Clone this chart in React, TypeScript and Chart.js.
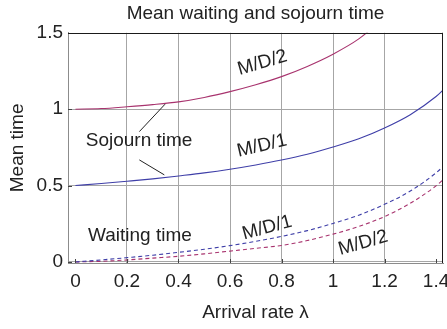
import { useEffect, useRef } from "react";
import { Chart, registerables } from "chart.js";

Chart.register(...registerables);

// Arrival rate (x values of the curves)
const lambda = [0, 0.1, 0.2, 0.3, 0.4, 0.5, 0.6, 0.7, 0.8, 0.9, 1.0, 1.1, 1.2, 1.3, 1.4, 1.43];

// Mean sojourn time
const md1Sojourn = [0.5, 0.513, 0.528, 0.544, 0.563, 0.583, 0.607, 0.635, 0.667, 0.705, 0.752, 0.806, 0.877, 0.964, 1.083, 1.13];
const md2Sojourn = [1.0, 1.004, 1.016, 1.03, 1.048, 1.077, 1.115, 1.16, 1.213, 1.28, 1.36, 1.46, 1.6, null, null, null];

// Mean waiting time
const md1Waiting = [0, 0.013, 0.028, 0.044, 0.063, 0.083, 0.107, 0.135, 0.167, 0.205, 0.252, 0.306, 0.377, 0.464, 0.583, 0.628];
const md2Waiting = [0, 0.004, 0.013, 0.025, 0.037, 0.053, 0.071, 0.089, 0.108, 0.14, 0.182, 0.232, 0.297, 0.384, 0.498, 0.542];

// Ticks
const xTicks = [0, 0.2, 0.4, 0.6, 0.8, 1, 1.2, 1.4];
const xTickLabels = ["0", "0.2", "0.4", "0.6", "0.8", "1", "1.2", "1.4"];
const xGrid = [0.2, 0.4, 0.6, 0.8, 1, 1.2];
const yTicks = [0, 0.5, 1, 1.5];
const yTickLabels = ["0", "0.5", "1", "1.5"];
const yGrid = [0, 0.5, 1];

// Text labels inside the plot (data units)
const labelTexts = ["M/D/2", "M/D/1", "Sojourn time", "Waiting time", "M/D/1", "M/D/2"];
const labelX = [0.726, 0.724, 0.247, 0.25, 0.744, 1.117];
const labelY = [1.303, 0.76, 0.79, 0.17, 0.223, 0.124];
const labelAngle = [-16, -13, 0, 0, -15, -16];

// Callout lines from "Sojourn time" (x1, y1, x2, y2 in data units)
const callouts = [
  [0.248, 0.853, 0.348, 1.033],
  [0.248, 0.668, 0.345, 0.57],
];

const FONT = '"Liberation Sans", Arial, Helvetica, sans-serif';
const TEXT = "#222222";
const GRID = "#a6a6a6";
const BLUE = "#3f3fa8";
const PURPLE = "#a8336e";

const overlay = {
  id: "overlay",
  afterDatasetsDraw(chart: any) {
    const { ctx, chartArea: a, scales } = chart;
    const xs = scales.x;
    const ys = scales.y;
    ctx.save();
    // inward tick marks
    ctx.strokeStyle = "#444";
    ctx.lineWidth = 1;
    ctx.beginPath();
    xTicks.forEach((v) => {
      const px = Math.round(xs.getPixelForValue(v)) + 0.5;
      ctx.moveTo(px, a.bottom);
      ctx.lineTo(px, a.bottom - 4);
    });
    yTicks.forEach((v) => {
      const py = Math.round(ys.getPixelForValue(v)) + 0.5;
      ctx.moveTo(a.left, py);
      ctx.lineTo(a.left + 4, py);
    });
    ctx.stroke();
    // top and right frame
    ctx.strokeStyle = "#1a1a1a";
    ctx.beginPath();
    ctx.moveTo(a.left, Math.round(a.top) + 0.5);
    ctx.lineTo(a.right, Math.round(a.top) + 0.5);
    ctx.moveTo(Math.round(a.right) - 0.5, a.top);
    ctx.lineTo(Math.round(a.right) - 0.5, a.bottom);
    ctx.stroke();
    // callout lines
    ctx.strokeStyle = TEXT;
    ctx.beginPath();
    callouts.forEach(([x1, y1, x2, y2]) => {
      ctx.moveTo(xs.getPixelForValue(x1), ys.getPixelForValue(y1));
      ctx.lineTo(xs.getPixelForValue(x2), ys.getPixelForValue(y2));
    });
    ctx.stroke();
    // labels
    ctx.fillStyle = TEXT;
    ctx.font = `19px ${FONT}`;
    ctx.textAlign = "center";
    ctx.textBaseline = "middle";
    labelTexts.forEach((t, i) => {
      ctx.save();
      ctx.translate(xs.getPixelForValue(labelX[i]), ys.getPixelForValue(labelY[i]));
      ctx.rotate((labelAngle[i] * Math.PI) / 180);
      ctx.fillText(t, 0, 0);
      ctx.restore();
    });
    ctx.restore();
  },
};

function toPoints(values: (number | null)[]) {
  return lambda.map((x, i) => ({ x, y: values[i] }));
}

export default function App() {
  const ref = useRef<HTMLCanvasElement>(null);

  useEffect(() => {
    document.body.style.margin = "0";
    const canvas = ref.current;
    if (!canvas) return;
    const line = (label: string, values: (number | null)[], color: string, dashed: boolean) => ({
      label,
      data: toPoints(values),
      borderColor: color,
      backgroundColor: color,
      borderWidth: 1.1,
      borderDash: dashed ? [4, 3] : [],
      pointRadius: 0,
      fill: false,
      cubicInterpolationMode: "monotone" as const,
      spanGaps: false,
    });
    const chart = new Chart(canvas, {
      type: "line",
      data: {
        datasets: [
          line("M/D/2 sojourn", md2Sojourn, PURPLE, false),
          line("M/D/1 sojourn", md1Sojourn, BLUE, false),
          line("M/D/1 waiting", md1Waiting, BLUE, true),
          line("M/D/2 waiting", md2Waiting, PURPLE, true),
        ],
      },
      options: {
        animation: false,
        responsive: false,
        devicePixelRatio: 1,
        layout: { padding: { left: 0, right: 4, top: 0, bottom: 0 } },
        plugins: {
          legend: { display: false },
          tooltip: { enabled: false },
          title: {
            display: true,
            fullSize: false,
            text: "Mean waiting and sojourn time",
            color: TEXT,
            font: { family: FONT, size: 19, weight: "normal" },
            padding: { top: 2, bottom: 8 },
          },
        },
        scales: {
          x: {
            type: "linear",
            min: -0.029,
            max: 1.427,
            afterBuildTicks: (s: any) => {
              s.ticks = xTicks.map((v) => ({ value: v }));
            },
            afterFit: (s: any) => {
              s.height = 66;
              s.paddingLeft = 0;
              s.paddingRight = 0;
            },
            ticks: {
              autoSkip: false,
              maxRotation: 0,
              minRotation: 0,
              padding: 7,
              color: TEXT,
              font: { family: FONT, size: 19 },
              callback: (_v: any, i: number) => xTickLabels[i],
            },
            grid: {
              drawTicks: false,
              color: (c: any) => (c.tick && xGrid.includes(c.tick.value) ? GRID : "rgba(0,0,0,0)"),
              lineWidth: 1,
            },
            border: { color: "#8c8c8c", width: 1 },
            title: {
              display: true,
              text: "Arrival rate λ",
              color: TEXT,
              font: { family: FONT, size: 19 },
              padding: { top: 0, bottom: 4.6 },
            },
          },
          y: {
            type: "linear",
            min: -0.007,
            max: 1.5,
            afterBuildTicks: (s: any) => {
              s.ticks = yTicks.map((v) => ({ value: v }));
            },
            afterFit: (s: any) => {
              s.width = 68;
              s.paddingTop = 0;
              s.paddingBottom = 0;
            },
            ticks: {
              padding: 5,
              color: TEXT,
              font: { family: FONT, size: 19 },
              callback: (_v: any, i: number) => yTickLabels[i],
            },
            grid: {
              drawTicks: false,
              color: (c: any) => (c.tick && yGrid.includes(c.tick.value) ? GRID : "rgba(0,0,0,0)"),
              lineWidth: 1,
            },
            border: { color: "#8c8c8c", width: 1 },
            title: {
              display: true,
              text: "Mean time",
              color: TEXT,
              font: { family: FONT, size: 19 },
              padding: { top: 6, bottom: 0 },
            },
          },
        },
      },
      plugins: [overlay],
    });
    return () => chart.destroy();
  }, []);

  return (
    <div style={{ width: 447, height: 329 }}>
      <canvas ref={ref} width={447} height={329} style={{ display: "block", width: 447, height: 329 }} />
    </div>
  );
}
